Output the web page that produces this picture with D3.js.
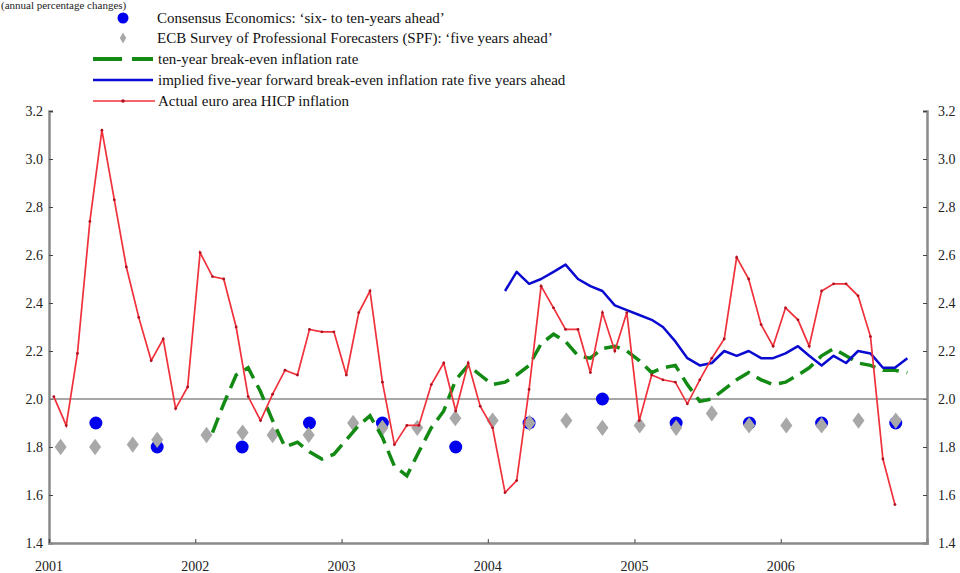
<!DOCTYPE html>
<html>
<head>
<meta charset="utf-8">
<script src="https://cdn.jsdelivr.net/npm/d3@7"></script>
<style>
  body { margin: 0; background: #fff; }
  svg { display: block; font-family: "Liberation Serif", "DejaVu Serif", serif; }
  .tick-label { font-size: 14px; fill: #222; }
  .legend-text { font-size: 15px; fill: #111; }
  .subtitle { font-size: 11px; fill: #222; }
</style>
</head>
<body>
<div id="chart"></div>
<script>
// actual euro area HICP inflation, monthly Jan 2001 - Oct 2006
var hicpStart = "2001-01";
var hicpValues = [
  2.01, 1.89, 2.19, 2.74, 3.12, 2.83, 2.55, 2.34, 2.16, 2.25, 1.96, 2.05,
  2.61, 2.51, 2.50, 2.30, 2.01, 1.91, 2.02, 2.12, 2.10, 2.29, 2.28, 2.28,
  2.10, 2.36, 2.45, 2.07, 1.81, 1.89, 1.89, 2.06, 2.15, 1.95, 2.15, 1.97,
  1.88, 1.61, 1.66, 2.04, 2.47, 2.38, 2.29, 2.29, 2.11, 2.36, 2.20, 2.36,
  1.91, 2.10, 2.08, 2.07, 1.98, 2.08, 2.17, 2.25, 2.59, 2.50, 2.31, 2.22,
  2.38, 2.33, 2.22, 2.45, 2.48, 2.48, 2.43, 2.26, 1.75, 1.56
];

// ten-year break-even inflation rate, monthly Feb 2002 - Nov 2006
var breakEvenStart = "2002-02";
var breakEvenValues = [
  1.86, 1.98, 2.10, 2.13, 2.03, 1.91, 1.80, 1.82, 1.78, 1.75, 1.77,
  1.83, 1.89, 1.93, 1.84, 1.72, 1.68, 1.78, 1.88, 1.95, 2.08, 2.14, 2.10,
  2.06, 2.07, 2.10, 2.14, 2.23, 2.27, 2.24, 2.18, 2.17, 2.21, 2.22, 2.20,
  2.16, 2.11, 2.13, 2.14, 2.06, 1.99, 2.00, 2.04, 2.08, 2.11, 2.08, 2.06,
  2.07, 2.10, 2.13, 2.18, 2.21, 2.18, 2.15, 2.14, 2.12, 2.12, 2.11
];

// implied five-year forward break-even rate five years ahead, Feb 2004 - Nov 2006
var forwardStart = "2004-02";
var forwardValues = [
  2.45, 2.53, 2.48, 2.50, 2.53, 2.56, 2.50, 2.47, 2.45, 2.39, 2.37,
  2.35, 2.33, 2.30, 2.24, 2.17, 2.14, 2.15, 2.20, 2.18, 2.20, 2.17, 2.17,
  2.19, 2.22, 2.18, 2.14, 2.18, 2.15, 2.20, 2.19, 2.13, 2.13, 2.17
];

// Consensus Economics survey rounds
var consensusDates = [
  "2001-04-28", "2001-09-28", "2002-04-28", "2002-10-13", "2003-04-13", "2003-10-13",
  "2004-04-13", "2004-10-13", "2005-04-15", "2005-10-15", "2006-04-13", "2006-10-15"
];
var consensusValues = [1.9, 1.8, 1.8, 1.9, 1.9, 1.8, 1.9, 2.0, 1.9, 1.9, 1.9, 1.9];

// ECB SPF survey rounds
var spfDates = [
  "2001-01-30", "2001-04-26", "2001-07-29", "2001-09-28", "2002-01-29", "2002-04-29",
  "2002-07-13", "2002-10-11", "2003-01-30", "2003-04-13", "2003-07-09", "2003-10-12",
  "2004-01-13", "2004-04-14", "2004-07-15", "2004-10-13", "2005-01-14", "2005-04-15",
  "2005-07-13", "2005-10-14", "2006-01-15", "2006-04-13", "2006-07-14", "2006-10-15"
];
var spfValues = [
  1.80, 1.80, 1.81, 1.83, 1.85, 1.86, 1.85, 1.85, 1.90, 1.88, 1.88, 1.92,
  1.91, 1.90, 1.91, 1.88, 1.89, 1.88, 1.94, 1.89, 1.89, 1.89, 1.91, 1.91
];

var yTicks = [1.4, 1.6, 1.8, 2.0, 2.2, 2.4, 2.6, 2.8, 3.0, 3.2];
var yearTicks = ["2001", "2002", "2003", "2004", "2005", "2006"];

var legendLabels = [
  "Consensus Economics: \u2018six- to ten-years ahead\u2019",
  "ECB Survey of Professional Forecasters (SPF): \u2018five years ahead\u2019",
  "ten-year break-even inflation rate",
  "implied five-year forward break-even inflation rate five years ahead",
  "Actual euro area HICP inflation"
];

var width = 960, height = 573;
var margin = {top: 111, right: 33, bottom: 30, left: 49};

var parseDay = d3.timeParse("%Y-%m-%d");
var parseMonth = d3.timeParse("%Y-%m");

// monthly observations sit a little before mid-month
function monthly(start, values) {
  var s = parseMonth(start);
  return values.map(function(v, i) {
    var d = d3.timeMonth.offset(s, i);
    d.setDate(13);
    return {date: d, value: v};
  });
}

var hicp = monthly(hicpStart, hicpValues);
var breakEven = monthly(breakEvenStart, breakEvenValues);
var forward = monthly(forwardStart, forwardValues);
var consensus = consensusDates.map(function(d, i) { return {date: parseDay(d), value: consensusValues[i]}; });
var spf = spfDates.map(function(d, i) { return {date: parseDay(d), value: spfValues[i]}; });

var svg = d3.select("#chart").append("svg")
    .attr("width", width)
    .attr("height", height);

var x = d3.scaleTime()
    .domain([new Date(2001, 0, 1), new Date(2007, 0, 1)])
    .range([margin.left, width - margin.right]);

var y = d3.scaleLinear()
    .domain([1.4, 3.2])
    .range([height - margin.bottom, margin.top]);

// subtitle at the very top
svg.append("text")
    .attr("x", 1)
    .attr("y", 9)
    .attr("class", "subtitle")
    .text("(annual percentage changes)");

// axes
var axisColor = "#8a8a8a";

var leftAxis = svg.append("g")
    .attr("transform", "translate(" + margin.left + ",0)")
    .call(d3.axisRight(y).tickValues(yTicks).tickSize(4).tickFormat(d3.format(".1f")));

var rightAxis = svg.append("g")
    .attr("transform", "translate(" + (width - margin.right) + ",0)")
    .call(d3.axisLeft(y).tickValues(yTicks).tickSize(4).tickFormat(d3.format(".1f")));

var bottomAxis = svg.append("g")
    .attr("transform", "translate(0," + (height - margin.bottom) + ")")
    .call(d3.axisTop(x).tickValues(yearTicks.map(function(t) { return new Date(+t, 0, 1); })).tickSize(4).tickFormat(""));

[leftAxis, rightAxis, bottomAxis].forEach(function(g) {
    g.select(".domain").attr("stroke", axisColor).attr("stroke-width", 2.5);
    g.selectAll(".tick line").attr("stroke", "#444").attr("stroke-width", 1);
    g.selectAll(".tick text").remove();
});

// tick labels
svg.append("g").selectAll("text")
    .data(yTicks)
    .enter().append("text")
    .attr("class", "tick-label")
    .attr("x", margin.left - 6)
    .attr("y", function(d) { return y(d) + 5; })
    .attr("text-anchor", "end")
    .text(d3.format(".1f"));

svg.append("g").selectAll("text")
    .data(yTicks)
    .enter().append("text")
    .attr("class", "tick-label")
    .attr("x", width - margin.right + 11)
    .attr("y", function(d) { return y(d) + 5; })
    .text(d3.format(".1f"));

svg.append("g").selectAll("text")
    .data(yearTicks)
    .enter().append("text")
    .attr("class", "tick-label")
    .attr("x", function(d) { return x(new Date(+d, 0, 1)); })
    .attr("y", height - 2)
    .attr("text-anchor", "middle")
    .text(function(d) { return d; });

// 2% reference line
svg.append("line")
    .attr("x1", x.range()[0])
    .attr("x2", x.range()[1])
    .attr("y1", y(2.0))
    .attr("y2", y(2.0))
    .attr("stroke", "#8a8a8a")
    .attr("stroke-width", 1.5);

// survey markers
svg.append("g").selectAll("circle")
    .data(consensus)
    .enter().append("circle")
    .attr("cx", function(d) { return x(d.date); })
    .attr("cy", function(d) { return y(d.value); })
    .attr("r", 6.5)
    .attr("fill", "#0000ee");

var diamond = d3.symbol().type(d3.symbolDiamond).size(95);
svg.append("g").selectAll("path")
    .data(spf)
    .enter().append("path")
    .attr("d", diamond)
    .attr("transform", function(d) { return "translate(" + x(d.date) + "," + y(d.value) + ") scale(1.15,0.9)"; })
    .attr("fill", "#a8a8a8");

var line = d3.line()
    .x(function(d) { return x(d.date); })
    .y(function(d) { return y(d.value); });

svg.append("path")
    .datum(breakEven)
    .attr("d", line)
    .attr("fill", "none")
    .attr("stroke", "#138a13")
    .attr("stroke-width", 3.5)
    .attr("stroke-dasharray", "16,8");

svg.append("path")
    .datum(forward)
    .attr("d", line)
    .attr("fill", "none")
    .attr("stroke", "#0a0ad0")
    .attr("stroke-width", 2.5)
    .attr("stroke-linejoin", "round");

svg.append("path")
    .datum(hicp)
    .attr("d", line)
    .attr("fill", "none")
    .attr("stroke", "#f0303a")
    .attr("stroke-width", 1.7);

svg.append("g").selectAll("circle")
    .data(hicp)
    .enter().append("circle")
    .attr("cx", function(d) { return x(d.date); })
    .attr("cy", function(d) { return y(d.value); })
    .attr("r", 1.4)
    .attr("fill", "#b01020");

// legend
var legend = svg.append("g");
var legendRows = [18, 38, 59, 80, 101];
var lx0 = 93, lx1 = 153, ltext = 157;

legend.append("circle")
    .attr("cx", 123).attr("cy", legendRows[0]).attr("r", 5.5)
    .attr("fill", "#0000ee");

legend.append("path")
    .attr("d", d3.symbol().type(d3.symbolDiamond).size(35))
    .attr("transform", "translate(123," + legendRows[1] + ")")
    .attr("fill", "#a8a8a8");

legend.append("line")
    .attr("x1", lx0).attr("x2", lx1)
    .attr("y1", legendRows[2]).attr("y2", legendRows[2])
    .attr("stroke", "#138a13").attr("stroke-width", 4)
    .attr("stroke-dasharray", "29,10");

legend.append("line")
    .attr("x1", lx0).attr("x2", lx1)
    .attr("y1", legendRows[3]).attr("y2", legendRows[3])
    .attr("stroke", "#0a0ad0").attr("stroke-width", 2.5);

legend.append("line")
    .attr("x1", lx0).attr("x2", lx1 + 2)
    .attr("y1", legendRows[4]).attr("y2", legendRows[4])
    .attr("stroke", "#f0303a").attr("stroke-width", 1.4);

legend.append("circle")
    .attr("cx", 123).attr("cy", legendRows[4]).attr("r", 1.8)
    .attr("fill", "#b01020");

legend.selectAll("text")
    .data(legendLabels)
    .enter().append("text")
    .attr("class", "legend-text")
    .attr("x", function(d, i) { return i < 2 ? ltext : ltext + 1; })
    .attr("y", function(d, i) { return legendRows[i] + 5; })
    .text(function(d) { return d; });
</script>
</body>
</html>
